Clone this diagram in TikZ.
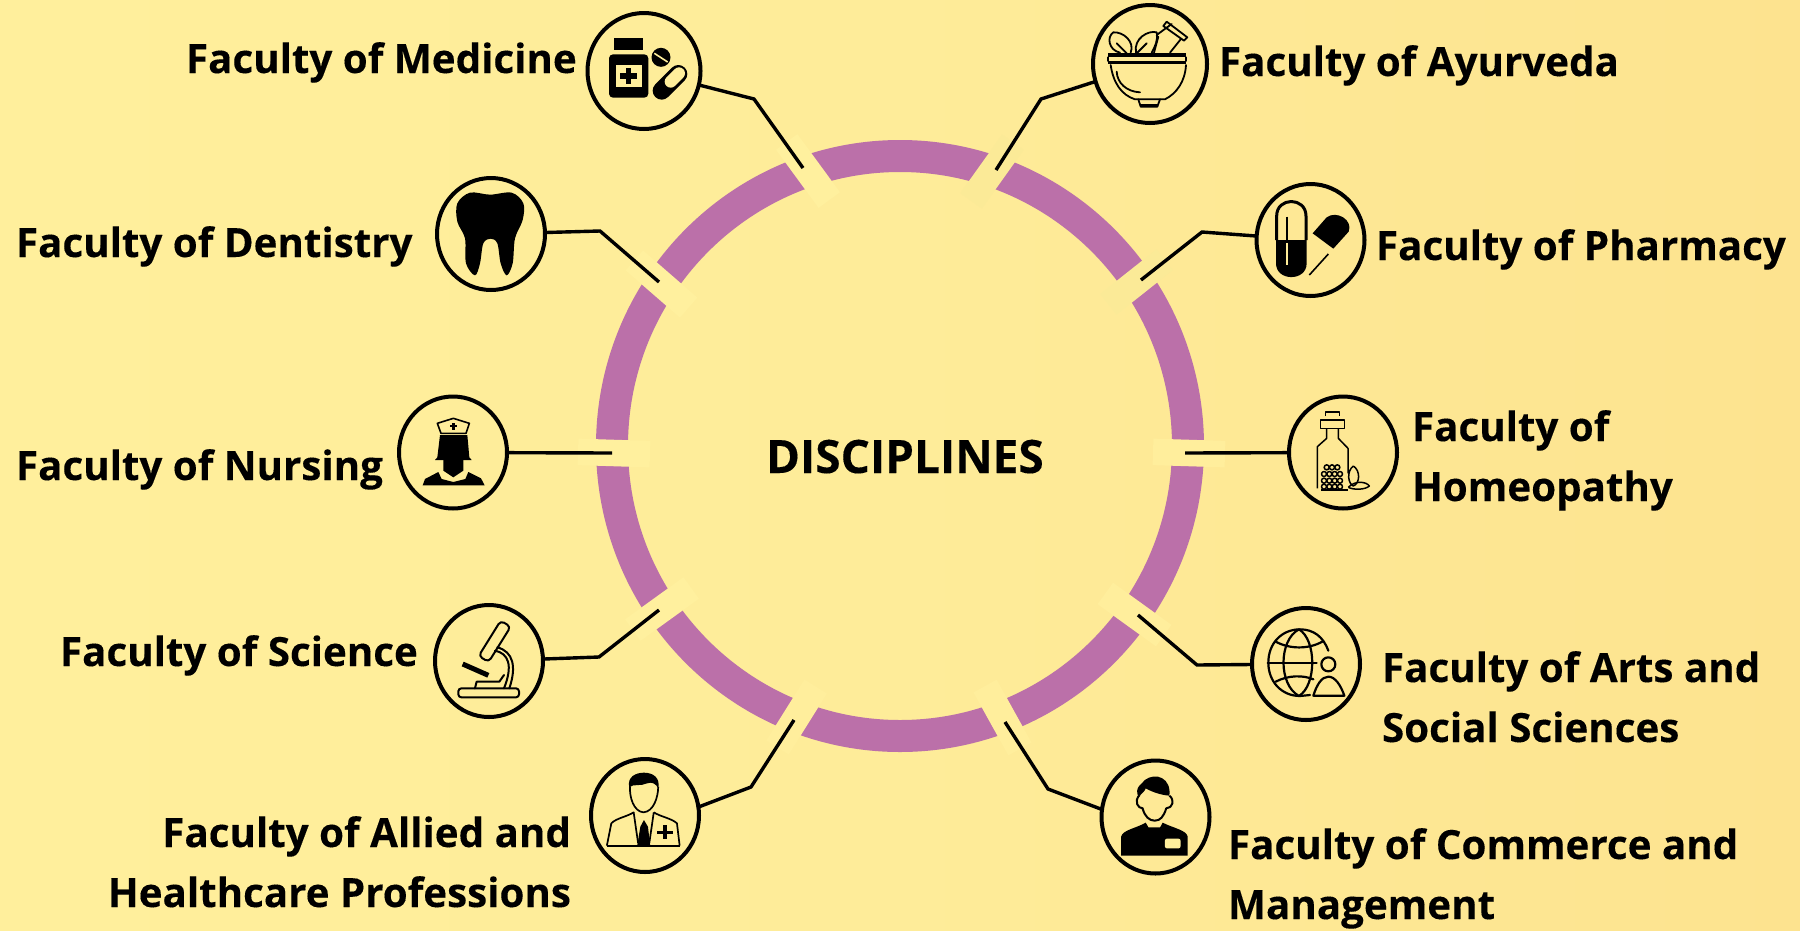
\documentclass[tikz,border=0pt]{standalone}
\usepackage{fontspec}
\setmainfont{Open Sans}[BoldFeatures={FakeBold=0.25}]
\usetikzlibrary{shapes.geometric}
\definecolor{bgL}{HTML}{FFEF9C}
\definecolor{bgM}{HTML}{FEEC99}
\definecolor{bgR}{HTML}{FDE38F}
\definecolor{ringc}{HTML}{BB70A9}
\definecolor{barL}{HTML}{FFF09E}
\definecolor{barM}{HTML}{FFEE9C}
\definecolor{barR}{HTML}{FBEA97}
\tikzset{
  zm/.style 2 args={shift={(#1,#2)},x=0.33333pt,y=-0.33333pt},
  zq/.style 2 args={shift={(#1,#2)},x=0.44643pt,y=-0.33333pt},
  facnode/.style={font=\fontsize{40.3}{60}\selectfont\bfseries,text=black,inner sep=0pt,outer sep=0pt},
  gapbar/.style={shape=rectangle,minimum width=72pt,minimum height=26.5pt,inner sep=0pt,outer sep=0pt},
  iconring/.style={shape=ellipse,draw=black,line width=4pt,inner sep=0pt,outer sep=0pt,minimum width=108pt,minimum height=112pt},
  conn/.style={draw=black,line width=3.4pt,line join=miter},
  thinl/.style={draw=black,line width=1.6pt,line join=round,line cap=round},
  medl/.style={draw=black,line width=2.4pt,line join=round,line cap=round},
}
\begin{document}
\begin{tikzpicture}[x=1pt,y=-1pt]
\useasboundingbox (0,0) rectangle (1800,930);
\fill[left color=bgL,right color=bgR,middle color=bgM] (0,0) rectangle (1800,930);
% ring
\draw[ringc,line width=32pt] (900,446) ellipse [x radius=288pt,y radius=290pt];
% gaps
\node[gapbar,fill=barL,rotate=-53.8] (g1) at (808,171) {};
\node[gapbar,fill=barL,rotate=-41] (g2) at (661.5,284) {};
\node[gapbar,fill=barL,rotate=-1.8] (g3) at (614,453) {};
\node[gapbar,fill=barL,rotate=-144.2] (g4) at (662,609) {};
\node[gapbar,fill=barM,rotate=-122] (g5) at (796.6,717) {};
\node[gapbar,fill=barR,rotate=-125.5] (g6) at (992,171.5) {};
\node[gapbar,fill=barR,rotate=-141.6] (g7) at (1136.5,282) {};
\node[gapbar,fill=barM,rotate=-1.8] (g8) at (1189,453) {};
\node[gapbar,fill=barM,rotate=-35.8] (g9) at (1134.5,614.5) {};
\node[gapbar,fill=barM,rotate=-61] (g10) at (1002.5,717.5) {};
% circles
\node[iconring,minimum width=113pt,minimum height=116pt] (cMed) at (644,71) {};
\node[iconring] (cDen) at (491,234) {};
\node[iconring,minimum width=114pt,minimum height=118pt] (cAyu) at (1150,64) {};
\node[iconring] (cPha) at (1310.5,240) {};
\node[iconring] (cNur) at (453,452.5) {};
\node[iconring] (cSci) at (489,661) {};
\node[iconring] (cHom) at (1343,452.5) {};
\node[iconring] (cArt) at (1306,664) {};
\node[iconring,minimum height=113pt] (cAll) at (645,815.5) {};
\node[iconring,minimum height=113pt] (cCom) at (1155.5,817) {};
% connector points
\coordinate (kMed) at (754,99);   \coordinate (eMed) at (803,168);
\coordinate (kDen) at (600,231);  \coordinate (eDen) at (659,282);
\coordinate (eNur) at (612,453);
\coordinate (kSci) at (599,657);  \coordinate (eSci) at (659,610);
\coordinate (kAll) at (751,787);  \coordinate (eAll) at (794,720);
\coordinate (kAyu) at (1041,99);  \coordinate (eAyu) at (996,170);
\coordinate (kPha) at (1202,232); \coordinate (ePha) at (1141,280);
\coordinate (eHom) at (1185,453);
\coordinate (kArt) at (1197,665); \coordinate (eArt) at (1138,615);
\coordinate (kCom) at (1048,789); \coordinate (eCom) at (1005,722);
\draw[conn] (cMed) -- (kMed) -- (eMed);
\draw[conn] (cDen) -- (kDen) -- (eDen);
\draw[conn] (cNur) -- (eNur);
\draw[conn] (cSci) -- (kSci) -- (eSci);
\draw[conn] (cAll.9) -- (kAll) -- (eAll);
\draw[conn] (cAyu) -- (kAyu) -- (eAyu);
\draw[conn] (cPha) -- (kPha) -- (ePha);
\draw[conn] (cHom) -- (eHom);
\draw[conn] (cArt) -- (kArt) -- (eArt);
\draw[conn] (cCom.172) -- (kCom) -- (eCom);
% ---- medicine icon
\begin{scope}[zm={400}{0}]
\fill (643,115) rectangle (728,150);
\fill[rounded corners=4pt] (627,163) rectangle (745,293);
\fill[bgL] (648,195) rectangle (725,262);
\fill (677,205) rectangle (693,252);
\fill (660,220) rectangle (710,236);
\fill (783,172) ellipse [x radius=9.5pt,y radius=9.5pt];
\draw[bgL,line width=1.6pt] (763,160) -- (803,186);
\draw[black,line width=18pt,line cap=round] (785,272) -- (835,222);
\draw[bgL,line width=12pt,line cap=round] (812,245) -- (837,220);
\end{scope}
% ---- tooth
\begin{scope}[zm={400}{0}]
\fill plot[smooth cycle,tension=0.55] coordinates {(270,584) (210,578) (172,610) (172,665) (195,715) (198,790) (225,826) (240,790) (250,730) (272,716) (292,730) (302,790) (320,826) (338,790) (345,715) (368,660) (370,610) (335,578)};
\end{scope}
% ---- nurse
\begin{scope}[zm={380}{380}]
\draw[thinl] (172,130) -- (220,115) -- (268,130) -- (258,160) -- (183,160) -- cycle;
\fill (217,128) rectangle (224,150);
\fill (211,134) rectangle (230,140);
\fill (180,165) -- (262,165) -- (268,232) -- (275,240) -- (165,240) -- (172,232) -- cycle;
\fill (190,240) -- (190,272) -- (220,292) -- (250,272) -- (250,240) -- cycle;
\fill (128,316) -- (135,297) -- (175,276) -- (185,297) -- (220,306) -- (256,297) -- (265,276) -- (303,295) -- (314,316) -- cycle;
\end{scope}
% ---- microscope
\begin{scope}[zm={380}{380}]
\begin{scope}[line width=2pt,line join=round,line cap=round]
\draw[rounded corners=4pt] (296,828) -- (362,722) -- (392,740) -- (326,846) -- cycle;
\draw (345,812) .. controls (385,820) and (400,855) .. (372,925);
\draw (352,802) .. controls (400,815) and (410,860) .. (388,925);
\draw[rounded corners=3pt] (235,925) rectangle (417,952);
\draw (285,925) -- (290,905) -- (358,905) -- (372,885);
\end{scope}
\draw[black,line width=5pt] (248,852) -- (325,886);
\end{scope}
% ---- ayurveda
\begin{scope}[zm={900}{0}]
\begin{scope}[line width=1.8pt,line join=round,line cap=round]
\fill (625,160) rectangle (858,172);
\fill (625,183) rectangle (858,193);
\draw (625,172) -- (625,183);
\draw (858,172) -- (858,183);
\draw (632,195) .. controls (640,250) and (665,285) .. (705,298) -- (795,298) .. controls (830,280) and (855,245) .. (858,195);
\draw (715,298) -- (722,320) -- (772,320) -- (780,298);
\fill (720,312) rectangle (775,322);
\draw (650,215) .. controls (652,250) and (680,275) .. (720,277);
\draw (660,158) .. controls (625,150) and (620,110) .. (640,97) .. controls (670,95) and (705,125) .. (692,158);
\draw (650,130) -- (680,160);
\draw (708,158) .. controls (700,115) and (745,90) .. (770,97) .. controls (775,120) and (765,140) .. (755,158);
\draw (712,158) -- (740,130);
\draw (770,105) -- (815,72);
\draw (810,158) -- (842,118);
\draw (762,158) -- (775,110);
\draw (800,65) -- (862,112) -- (852,122) -- (790,78) -- cycle;
\end{scope}
\end{scope}
% ---- pharmacy
\begin{scope}[zm={900}{0}]
\begin{scope}[line join=round]
\draw[line width=3pt] (1130,720) -- (1130,648) .. controls (1130,590) and (1218,590) .. (1218,648) -- (1218,720);
\fill (1128,720) -- (1220,720) -- (1220,790) .. controls (1220,845) and (1128,845) .. (1128,790) -- cycle;
\draw[line width=1.8pt] (1161,650) -- (1161,720);
\draw[bgM,line width=1.8pt] (1161,730) -- (1161,795);
\fill (1238,700) -- (1280,652) .. controls (1310,630) and (1360,660) .. (1346,695) -- (1300,746) -- cycle;
\draw[line width=1.6pt] (1285,762) -- (1228,825);
\end{scope}
\end{scope}
% ---- homeopathy
\begin{scope}[zm={1100}{380}]
\begin{scope}[line width=1.5pt,line join=round]
\draw (677,108) -- (677,96) -- (718,96) -- (718,108);
\draw (662,120) rectangle (733,145);
\draw (680,145) -- (680,175) -- (652,200) -- (652,325);
\draw (715,145) -- (715,175) -- (744,205) -- (744,280);
\fill (662,328) rectangle (745,334);
\foreach \yy/\xa/\nn in {262/680/3,282/672/4,302/672/4,320/672/4}{
  \foreach \ii in {1,...,\nn}{
    \draw (\xa+\ii*16-16,\yy) ellipse [x radius=2.5pt,y radius=2.5pt];
  }
}
\draw (760,258) .. controls (738,275) and (745,312) .. (760,318) .. controls (780,310) and (782,272) .. (760,258);
\draw (745,322) .. controls (765,300) and (800,305) .. (808,318) .. controls (795,330) and (760,330) .. (745,322);
\end{scope}
\end{scope}
% ---- arts
\begin{scope}[zm={1100}{380}]
\begin{scope}[line width=2.2pt,line cap=round,line join=round]
\draw (685,812) .. controls (670,770) and (640,748) .. (600,748) .. controls (545,748) and (505,790) .. (505,848) .. controls (505,905) and (545,948) .. (600,948) -- (630,945);
\draw (597,748) .. controls (535,780) and (535,915) .. (597,948) .. controls (650,915) and (650,780) .. (597,748);
\draw (503,848) -- (650,848);
\draw (527,785) .. controls (570,808) and (625,808) .. (667,785);
\draw (527,905) .. controls (565,885) and (610,885) .. (640,898);
\draw (685,853) ellipse [x radius=7pt,y radius=7pt];
\draw (640,947) .. controls (650,915) and (665,890) .. (685,890) .. controls (705,890) and (722,915) .. (733,947) -- cycle;
\end{scope}
\end{scope}
% ---- allied
\begin{scope}[zq={560}{680}]
\begin{scope}[line width=1.7pt,line join=round]
\fill (155,322) .. controls (150,290) and (170,278) .. (188,278) .. controls (210,278) and (225,295) .. (220,325) .. controls (215,310) and (205,305) .. (195,310) .. controls (180,320) and (165,310) .. (155,322);
\draw (157,320) .. controls (155,350) and (165,395) .. (187,397) .. controls (210,395) and (220,350) .. (220,320);
\draw (105,497) -- (115,430) .. controls (125,415) and (150,410) .. (165,397) -- (175,490);
\draw (210,397) -- (200,490);
\draw (210,397) .. controls (225,410) and (250,415) .. (262,430) -- (268,497);
\draw[line width=2.2pt] (105,497) -- (268,497);
\fill (173,497) -- (180,440) -- (188,420) -- (197,440) -- (202,497) -- cycle;
\fill (230,435) rectangle (240,478);
\fill (218,452) rectangle (252,462);
\end{scope}
\end{scope}
% ---- commerce
\begin{scope}[zq={560}{680}]
\begin{scope}[line width=2pt,line join=round]
\fill (1296,352) .. controls (1285,320) and (1305,312) .. (1310,300) .. controls (1335,275) and (1370,295) .. (1365,347) .. controls (1345,345) and (1325,335) .. (1312,325) .. controls (1310,335) and (1302,340) .. (1296,352);
\draw (1298,345) .. controls (1285,365) and (1295,385) .. (1305,385) .. controls (1310,410) and (1320,422) .. (1332,422) .. controls (1345,422) and (1352,410) .. (1358,385) .. controls (1372,385) and (1378,360) .. (1365,347);
\fill (1257,527) -- (1257,470) .. controls (1260,450) and (1290,445) .. (1312,428) -- (1328,465) -- (1318,442) -- (1345,442) -- (1335,465) -- (1350,428) .. controls (1375,445) and (1403,450) .. (1406,470) -- (1406,527) -- cycle;
\fill[bgL,rounded corners=2pt] (1355,476) rectangle (1390,505);
\end{scope}
\end{scope}
% text
\node[facnode,anchor=base west] (tMed) at (186,73) {Faculty of Medicine};
\node[facnode,anchor=base west] (tDen) at (16,257) {Faculty of Dentistry};
\node[facnode,anchor=base west] (tNur) at (16,480) {Faculty of Nursing};
\node[facnode,anchor=base west] (tSci) at (60,666) {Faculty of Science};
\node[facnode,anchor=base east,align=right] (tAll) at (571,907) {Faculty of Allied and\\Healthcare Professions};
\node[facnode,anchor=base west] (tAyu) at (1219,76) {Faculty of Ayurveda};
\node[facnode,anchor=base west] (tPha) at (1376,260) {Faculty of Pharmacy};
\node[facnode,anchor=base west,align=left] (tHom) at (1412,501) {Faculty of\\Homeopathy};
\node[facnode,anchor=base west,align=left] (tArt) at (1382,742) {Faculty of Arts and\\Social Sciences};
\node[facnode,anchor=base west,align=left] (tCom) at (1228,919) {Faculty of Commerce and\\Management};
\node[facnode,font=\fontsize{46}{60}\selectfont\bfseries,anchor=base west] (tDis) at (766,473) {DISCIPLINES};
\end{tikzpicture}
\end{document}
